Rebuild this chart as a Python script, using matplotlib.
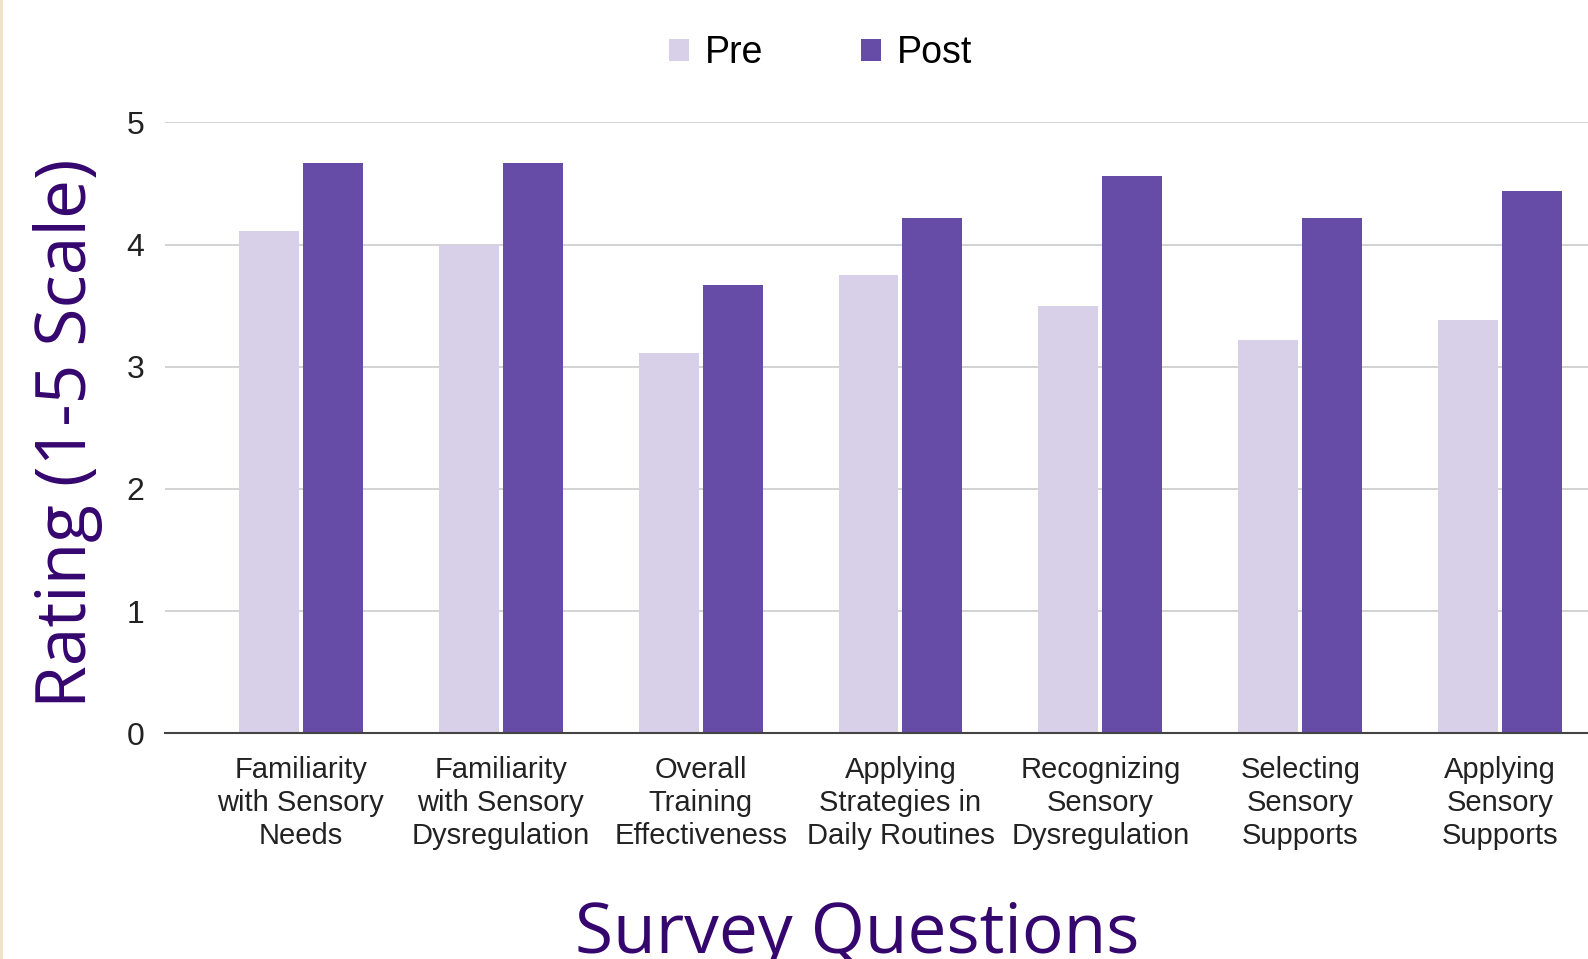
import matplotlib
matplotlib.use('Agg')
import matplotlib.pyplot as plt
from matplotlib.patches import Patch, Rectangle
import numpy as np


questions = [
    'Familiarity\nwith Sensory\nNeeds',
    'Familiarity\nwith Sensory\nDysregulation',
    'Overall\nTraining\nEffectiveness',
    'Applying\nStrategies in\nDaily Routines',
    'Recognizing\nSensory\nDysregulation',
    'Selecting\nSensory\nSupports',
    'Applying\nSensory\nSupports',
]
pre = [4.11, 4.0, 3.11, 3.75, 3.5, 3.22, 3.38]
post = [4.67, 4.67, 3.67, 4.22, 4.56, 4.22, 4.44]
y_ticks = [0, 1, 2, 3, 4, 5]

pre_color = '#d8d0e8'
post_color = '#664ca6'
label_color = '#35066e'
tick_font = 'Liberation Sans'
label_font = 'Open Sans'


def main():
    fig = plt.figure(figsize=(15.88, 9.59), dpi=100)
    fig.patch.set_facecolor('white')
    # thin beige strip on the left edge
    fig.patches.append(Rectangle((0, 0), 2.5 / 1588, 1, transform=fig.transFigure,
                                 facecolor='#efe4c8', edgecolor='none'))

    ax = fig.add_axes([165 / 1588, 0.2353, 1435 / 1588, 0.637])
    x = np.arange(len(questions))
    ax.bar(x - 0.16, pre, width=0.30, color=pre_color, zorder=3)
    ax.bar(x + 0.16, post, width=0.30, color=post_color, zorder=3)

    ax.set_xlim(-0.68, 6.5)
    ax.set_ylim(0, 5)
    ax.set_yticks(y_ticks)
    ax.set_xticks(x)
    ax.set_xticklabels(questions, fontsize=21, family=tick_font, color='#222222',
                       linespacing=1.24)
    ax.set_yticklabels([str(t) for t in y_ticks], fontsize=23, family=tick_font,
                       color='#222222')
    ax.tick_params(axis='x', length=0, pad=16)
    ax.tick_params(axis='y', length=0, pad=15)

    ax.grid(axis='y', color='#d0d0d0', linewidth=1.3, zorder=0)
    for s in ['top', 'right', 'left']:
        ax.spines[s].set_visible(False)
    ax.spines['bottom'].set_color('#444444')
    ax.spines['bottom'].set_linewidth(1.5)
    ax.spines['bottom'].set_zorder(4)

    fig.text(68 / 1588, 1 - 433 / 959, 'Rating (1-5 Scale)', rotation=90,
             ha='center', va='center', fontsize=50, family=label_font,
             color=label_color)
    # the reference cuts the descenders of this label at the bottom edge
    fig.text(857 / 1588, 6 / 959, 'Survey Questions', ha='center', va='baseline',
             fontsize=50, family=label_font, color=label_color)

    handles = [Patch(facecolor=pre_color, label='Pre'),
               Patch(facecolor=post_color, label='Post')]
    fig.legend(handles=handles, loc='center', bbox_to_anchor=(821 / 1588, 1 - 53 / 959),
               ncol=2, frameon=False, prop={'family': tick_font, 'size': 27},
               handlelength=0.53, handleheight=0.53, handletextpad=0.43,
               columnspacing=2.6)

    fig.savefig('out.png', dpi=100)


if __name__ == '__main__':
    main()
